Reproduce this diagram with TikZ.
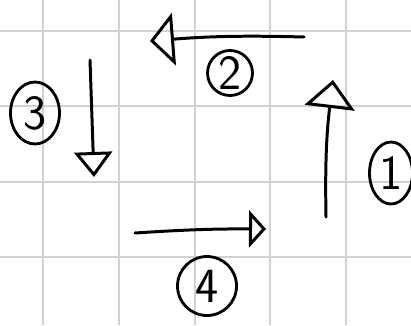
\documentclass[tikz,border=0pt]{standalone}
\usetikzlibrary{arrows.meta,shapes.geometric}

\begin{document}
\begin{tikzpicture}[
  x=0.02cm,y=-0.02cm,
  gridline/.style={draw=black!18,line width=1.1pt},
  flow/.style 2 args={draw,line width=1.7pt,line cap=round,line join=round,
    -{Triangle[open,length=#1,width=#2,line width=1.7pt]}},
  num/.style={draw,circle,line width=1.6pt,minimum size=1cm,inner sep=0pt,
    font=\fontsize{28}{32}\selectfont\sffamily}
]
  \clip (0,0) rectangle (411,325);
  \fill[white] (0,0) rectangle (411,325);

  % squared paper
  \foreach \gx in {43,119,195,270,346}
    \draw[gridline] (\gx,0) -- (\gx,325);
  \foreach \gy in {31,106,182,257}
    \draw[gridline] (0,\gy) -- (411,\gy);

  % step ends
  \coordinate (up-s) at (326,217);
  \coordinate (up-e) at (333,80);
  \coordinate (left-s) at (304,37);
  \coordinate (left-e) at (150,41);
  \coordinate (down-s) at (90,60);
  \coordinate (down-e) at (94,177);
  \coordinate (right-s) at (135,233);
  \coordinate (right-e) at (266,229);

  % steps
  \draw[flow={0.56cm}{1.0cm}] (up-s) to[bend left=4] (up-e);
  \draw[flow={0.48cm}{1.05cm}] (left-s) to[bend right=3] (left-e);
  \draw[flow={0.5cm}{0.76cm}] (down-s) -- (down-e);
  \draw[flow={0.34cm}{0.74cm}] (right-s) to[bend left=2] (right-e);

  % labels
  \node[num,ellipse,minimum width=0.86cm,minimum height=1.24cm] (n1) at (391,173) {1};
  \node[num,minimum size=0.9cm] (n2) at (230,73) {2};
  \node[num,ellipse,minimum width=0.98cm,minimum height=1.24cm] (n3) at (35,113) {3};
  \node[num,minimum size=1.18cm] (n4) at (207,286) {4};
\end{tikzpicture}
\end{document}
